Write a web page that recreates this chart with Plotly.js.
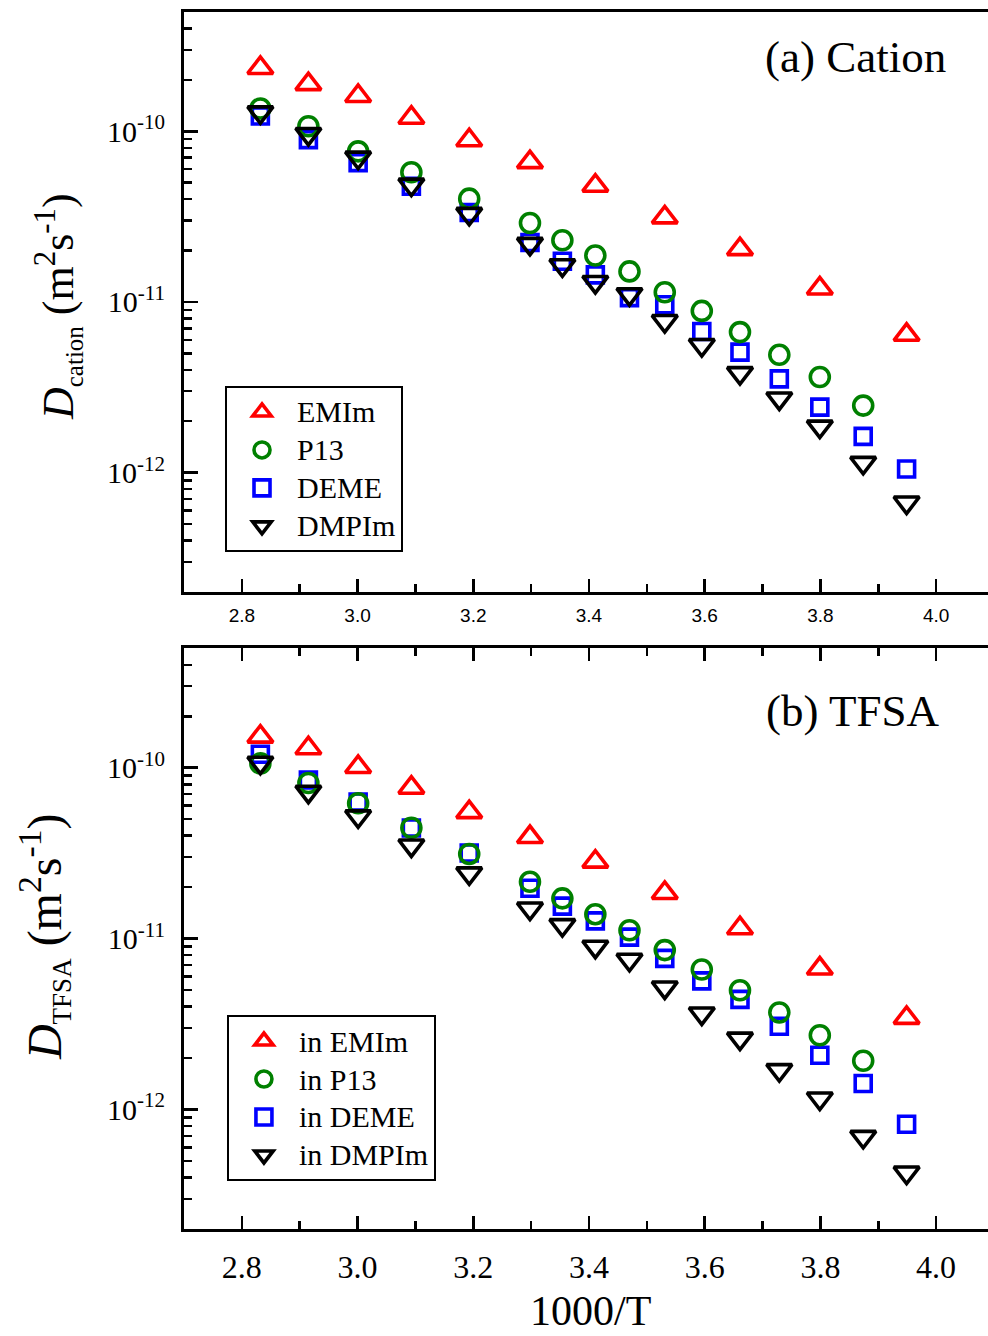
<!DOCTYPE html>
<html>
<head>
<meta charset="utf-8">
<script src="https://cdn.plot.ly/plotly-3.0.1.min.js"></script>
<style>
  html, body { margin: 0; padding: 0; background: #fff; }
  #chart { width: 988px; height: 1336px; }
</style>
</head>
<body>
<div id="chart"></div>
<script>
// 1000/T values (K^-1): every 10 K from 353 K, plus 5 K steps below 303 K
const invT_all = [2.832, 2.915, 3.001, 3.093, 3.193, 3.298, 3.354, 3.411, 3.470,
                  3.531, 3.595, 3.661, 3.729, 3.799, 3.874, 3.949];
const invT_emim = [2.832, 2.915, 3.001, 3.093, 3.193, 3.298, 3.411, 3.531, 3.661, 3.799, 3.949];
const invT_p13 = [2.832, 2.915, 3.001, 3.093, 3.193, 3.298, 3.354, 3.411, 3.470,
                  3.531, 3.595, 3.661, 3.729, 3.799, 3.874];

// (a) cation self-diffusion coefficients, m^2 s^-1
const cat_emim  = [2.35e-10, 1.89e-10, 1.61e-10, 1.20e-10, 8.86e-11, 6.60e-11, 4.80e-11,
                   3.13e-11, 2.04e-11, 1.20e-11, 6.42e-12];
const cat_p13   = [1.36e-10, 1.07e-10, 7.63e-11, 5.75e-11, 4.03e-11, 2.90e-11, 2.30e-11, 1.87e-11,
                   1.51e-11, 1.14e-11, 8.86e-12, 6.66e-12, 4.90e-12, 3.63e-12, 2.47e-12];
const cat_deme  = [1.23e-10, 8.94e-11, 6.55e-11, 4.76e-11, 3.34e-11, 2.23e-11, 1.73e-11, 1.44e-11,
                   1.06e-11, 9.63e-12, 6.71e-12, 5.08e-12, 3.54e-12, 2.42e-12, 1.63e-12, 1.05e-12];
const cat_dmpim = [1.29e-10, 9.65e-11, 7.01e-11, 4.87e-11, 3.28e-11, 2.19e-11, 1.64e-11, 1.31e-11,
                   1.11e-11, 7.73e-12, 5.59e-12, 3.83e-12, 2.72e-12, 1.86e-12, 1.14e-12, 6.68e-13];

// (b) TFSA anion self-diffusion coefficients, m^2 s^-1
const an_emim  = [1.52e-10, 1.30e-10, 1.01e-10, 7.64e-11, 5.50e-11, 3.93e-11, 2.82e-11,
                  1.85e-11, 1.15e-11, 6.68e-12, 3.44e-12];
const an_p13   = [1.06e-10, 8.14e-11, 6.19e-11, 4.45e-11, 3.13e-11, 2.15e-11, 1.72e-11, 1.39e-11,
                  1.12e-11, 8.57e-12, 6.60e-12, 4.99e-12, 3.70e-12, 2.72e-12, 1.93e-12];
const an_deme  = [1.20e-10, 8.47e-11, 6.30e-11, 4.44e-11, 3.17e-11, 1.97e-11, 1.55e-11, 1.27e-11,
                  1.02e-11, 7.66e-12, 5.66e-12, 4.41e-12, 3.07e-12, 2.08e-12, 1.42e-12, 8.20e-13];
const an_dmpim = [1.07e-10, 7.24e-11, 5.19e-11, 3.51e-11, 2.41e-11, 1.50e-11, 1.20e-11, 8.97e-12,
                  7.52e-12, 5.18e-12, 3.65e-12, 2.60e-12, 1.70e-12, 1.16e-12, 6.92e-13, 4.28e-13];

const cationNames = ['EMIm', 'P13', 'DEME', 'DMPIm'];
const anionNames  = ['in EMIm', 'in P13', 'in DEME', 'in DMPIm'];
const yTickVals = [1e-12, 1e-11, 1e-10];
const yTickText = ['10<sup>-12</sup>', '10<sup>-11</sup>', '10<sup>-10</sup>'];

const SERIF = '"Liberation Serif", "Times New Roman", serif';
const SANS = '"Liberation Sans", Arial, sans-serif';

const styles = {
  EMIm:  { symbol: 'triangle-up-open',   color: '#ff0000', size: 22 },
  P13:   { symbol: 'circle-open',        color: '#008000', size: 19 },
  DEME:  { symbol: 'square-open',        color: '#0000ff', size: 16 },
  DMPIm: { symbol: 'triangle-down-open', color: '#000000', size: 22 }
};

// legend entries are drawn a little larger than the row spacing font
function legendLabel(name) {
  return '<span style="font-size:30px">' + name + '</span>';
}

function series(x, y, key, name, rank, xa, ya, legend) {
  const s = styles[key];
  return {
    x: x, y: y, name: legendLabel(name), type: 'scatter', mode: 'markers',
    xaxis: xa, yaxis: ya, legend: legend, legendrank: rank,
    marker: {
      symbol: s.symbol,
      size: s.size,
      color: s.color,
      line: { color: s.color, width: 3.6 }
    },
    hoverinfo: 'x+y'
  };
}

// draw order: EMIm, DEME, P13, DMPIm (legend order set by rank)
const traces = [
  series(invT_emim, cat_emim,  'EMIm',  cationNames[0], 1, 'x',  'y',  'legend'),
  series(invT_all,  cat_deme,  'DEME',  cationNames[2], 3, 'x',  'y',  'legend'),
  series(invT_p13,  cat_p13,   'P13',   cationNames[1], 2, 'x',  'y',  'legend'),
  series(invT_all,  cat_dmpim, 'DMPIm', cationNames[3], 4, 'x',  'y',  'legend'),
  series(invT_emim, an_emim,   'EMIm',  anionNames[0],  1, 'x2', 'y2', 'legend2'),
  series(invT_all,  an_deme,   'DEME',  anionNames[2],  3, 'x2', 'y2', 'legend2'),
  series(invT_p13,  an_p13,    'P13',   anionNames[1],  2, 'x2', 'y2', 'legend2'),
  series(invT_all,  an_dmpim,  'DMPIm', anionNames[3],  4, 'x2', 'y2', 'legend2')
];

const xRange = [2.7, 4.0897];
const yRange = [Math.log10(2e-13), Math.log10(5e-10)];

function xAxis(anchor, mirror, font, standoff) {
  return {
    anchor: anchor, domain: [0, 1], range: xRange,
    tickmode: 'linear', tick0: 0, dtick: 0.2, tickformat: '.1f',
    ticks: 'inside', ticklen: 13, tickwidth: 2.5, tickcolor: '#000',
    minor: { dtick: 0.1, ticks: 'inside', ticklen: 8, tickwidth: 2.5, tickcolor: '#000' },
    showline: true, linewidth: 3, linecolor: '#000', mirror: mirror,
    showgrid: false, zeroline: false,
    tickfont: font, ticklabelstandoff: standoff
  };
}

function yAxis(anchor, domain) {
  return {
    anchor: anchor, domain: domain, type: 'log', range: yRange,
    tickmode: 'array', tickvals: yTickVals, ticktext: yTickText,
    ticks: 'inside', ticklen: 14, tickwidth: 2.5, tickcolor: '#000',
    minor: { dtick: 'D1', ticks: 'inside', ticklen: 8, tickwidth: 2.5, tickcolor: '#000' },
    showline: true, linewidth: 3, linecolor: '#000', mirror: false,
    showgrid: false, zeroline: false,
    tickfont: { family: SERIF, size: 30, color: '#000' },
    ticklabelstandoff: 10
  };
}

function legendBox(x, y) {
  return {
    x: x, y: y, xanchor: 'left', yanchor: 'top',
    bgcolor: '#fff', bordercolor: '#000', borderwidth: 2,
    font: { family: SERIF, size: 26.9, color: '#000' },
    itemwidth: 60, traceorder: 'normal', tracegroupgap: 0
  };
}

const layout = {
  width: 988, height: 1336,
  margin: { l: 184, r: 0, t: 12, b: 107, pad: 0 },
  paper_bgcolor: '#fff', plot_bgcolor: 'rgba(0,0,0,0)',
  font: { family: SERIF, color: '#000' },
  showlegend: true,
  xaxis:  xAxis('y',  true,    { family: SANS,  size: 19, color: '#000' }, 4),
  xaxis2: xAxis('y2', 'ticks', { family: SERIF, size: 32, color: '#000' }, 8),
  yaxis:  yAxis('x',  [0.5235, 1]),
  yaxis2: yAxis('x2', [0, 0.4772]),
  legend:  legendBox(0.051, 0.6927),
  legend2: legendBox(0.0534, 0.1758),
  annotations: [
    { text: '(a) Cation', xref: 'paper', yref: 'paper', x: 0.8358, y: 0.963,
      xanchor: 'center', yanchor: 'middle', showarrow: false,
      font: { family: SERIF, size: 45, color: '#000' } },
    { text: '(b) TFSA', xref: 'paper', yref: 'paper', x: 0.8314, y: 0.4256,
      xanchor: 'center', yanchor: 'middle', showarrow: false,
      font: { family: SERIF, size: 45, color: '#000' } },
    { text: '<i>D</i><sub><span style="font-size:25px">cation</span></sub> (m<sup>2</sup>s<sup>-1</sup>)',
      xref: 'paper', yref: 'paper', x: -0.1567, y: 0.7576, textangle: -90,
      xanchor: 'center', yanchor: 'middle', showarrow: false,
      font: { family: SERIF, size: 44, color: '#000' } },
    { text: '<i>D</i><sub><span style="font-size:27px">TFSA</span></sub> (m<sup>2</sup>s<sup>-1</sup>)',
      xref: 'paper', yref: 'paper', x: -0.1741, y: 0.2399, textangle: -90,
      xanchor: 'center', yanchor: 'middle', showarrow: false,
      font: { family: SERIF, size: 48, color: '#000' } },
    { text: '1000/T', xref: 'paper', yref: 'paper', x: 0.5062, y: -0.0879,
      xanchor: 'center', yanchor: 'bottom', showarrow: false,
      font: { family: SERIF, size: 42, color: '#000' } }
  ]
};

Plotly.newPlot('chart', traces, layout, { staticPlot: true, displayModeBar: false });
</script>
</body>
</html>
